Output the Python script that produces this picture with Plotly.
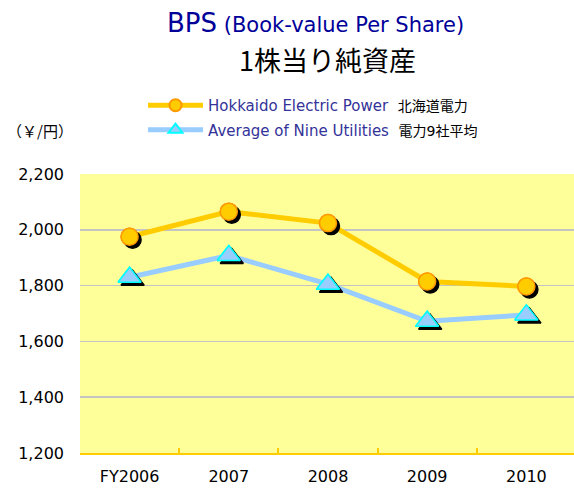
import plotly.graph_objects as go

categories = ["FY2006", "2007", "2008", "2009", "2010"]
hokkaido = [1975, 2065, 2024, 1815, 1797]
average9 = [1830, 1908, 1805, 1672, 1695]
y_ticks = [1200, 1400, 1600, 1800, 2000, 2200]
y_tick_text = ["1,200", "1,400", "1,600", "1,800", "2,000", "2,200"]

W, H = 574, 488
ML, MR, MT, MB = 80, 0, 174, 35
PW, PH = W - ML - MR, H - MT - MB

XR = [-0.5, 4.48]
YR = [1200, 2200]
# shadow offset in pixels
SDX, SDY = 3, 3
dx = SDX * (XR[1] - XR[0]) / PW
dy = SDY * (YR[1] - YR[0]) / PH


def px(x):
    return (x - ML) / PW


def py(y):
    return (H - MB - y) / PH


ORANGE = "#FFCC00"
ORANGE_EDGE = "#FF9900"
BLUE = "#99CCFF"
CYAN = "#00FFFF"
LEG_TXT = "#333399"

fig = go.Figure()

series = [
    (hokkaido, "Hokkaido Electric Power", "北海道電力", ORANGE, "circle", 17, ORANGE, ORANGE_EDGE, "a"),
    (average9, "Average of Nine Utilities", "電力9社平均", BLUE, "triangle-up", 20, BLUE, CYAN, "b"),
]

for vals, en, jp, lc, sym, size, fc, ec, grp in series:
    name = (f"<span style='color:{LEG_TXT}'>{en}</span>&nbsp;&nbsp;"
            f"<span style='color:#000000;font-size:14px'>{jp}</span>")
    fig.add_trace(go.Scatter(
        x=categories, y=vals, mode="lines+markers", name=name,
        legendgroup=grp,
        line=dict(color=lc, width=5),
        marker=dict(symbol=sym, size=size, color=fc, line=dict(color=ec, width=1.5)),
        xaxis="x", yaxis="y", hoverinfo="skip",
    ))

for vals, en, jp, lc, sym, size, fc, ec, grp in series:
    fig.add_trace(go.Scatter(
        x=categories, y=vals, mode="markers", showlegend=False,
        marker=dict(symbol=sym, size=size, color="#000000", line=dict(color="#000000", width=1.5)),
        xaxis="x2", yaxis="y2", hoverinfo="skip",
    ))

for vals, en, jp, lc, sym, size, fc, ec, grp in series:
    fig.add_trace(go.Scatter(
        x=categories, y=vals, mode="markers", showlegend=False,
        marker=dict(symbol=sym, size=size, color=fc, line=dict(color=ec, width=1.5)),
        xaxis="x3", yaxis="y3", hoverinfo="skip",
    ))

tickfont = dict(family="DejaVu Sans, Noto Sans CJK JP", size=16, color="#000000")

fig.update_layout(
    width=W, height=H,
    margin=dict(l=ML, r=MR, t=MT, b=MB),
    paper_bgcolor="#FFFFFF",
    plot_bgcolor="#FFFF99",
    xaxis=dict(
        type="category", range=XR, showgrid=False,
        showline=True, linecolor=ORANGE, linewidth=2,
        ticks="inside", tickson="boundaries", ticklen=5, tickcolor=ORANGE, tickwidth=2,
        tickfont=tickfont, ticklabelstandoff=8, fixedrange=True, zeroline=False,
    ),
    yaxis=dict(
        range=YR, tickvals=y_ticks, ticktext=y_tick_text,
        showgrid=True, gridcolor="#C4C4C4", gridwidth=1.5,
        showline=False, ticks="", zeroline=False,
        tickfont=tickfont, ticklabelstandoff=15, fixedrange=True,
    ),
    xaxis2=dict(type="category", overlaying="x", range=[XR[0] - dx, XR[1] - dx], visible=False),
    yaxis2=dict(overlaying="y", range=[YR[0] + dy, YR[1] + dy], visible=False),
    xaxis3=dict(type="category", overlaying="x", range=XR, visible=False),
    yaxis3=dict(overlaying="y", range=YR, visible=False),
    legend=dict(
        x=px(143), y=py(89), xanchor="left", yanchor="top",
        font=dict(family="DejaVu Sans, Noto Sans CJK JP", size=15, color=LEG_TXT),
        bgcolor="rgba(0,0,0,0)", traceorder="grouped", tracegroupgap=2,
        itemwidth=55, itemsizing="constant",
    ),
    showlegend=True,
    annotations=[
        dict(x=px(315), y=py(23), xref="paper", yref="paper", showarrow=False,
             xanchor="center", yanchor="middle",
             text="<span style='font-size:26px'>BPS</span> (Book-value Per Share)",
             font=dict(family="DejaVu Sans, Noto Sans CJK JP", size=21, color="#000099")),
        dict(x=px(327), y=py(59), xref="paper", yref="paper", showarrow=False,
             xanchor="center", yanchor="middle",
             text="1株当り純資産",
             font=dict(family="Noto Sans CJK JP", size=27, color="#000000")),
        dict(x=px(5), y=py(130), xref="paper", yref="paper", showarrow=False,
             xanchor="left", yanchor="middle",
             text="（￥/円）",
             font=dict(family="Noto Sans CJK JP", size=15, color="#000000")),
    ],
)

fig.write_html(
    "out.html",
    config={"displayModeBar": False, "staticPlot": True},
    post_script="document.body.style.margin='0';document.body.style.padding='0';"
                "document.body.style.overflow='hidden';",
)
